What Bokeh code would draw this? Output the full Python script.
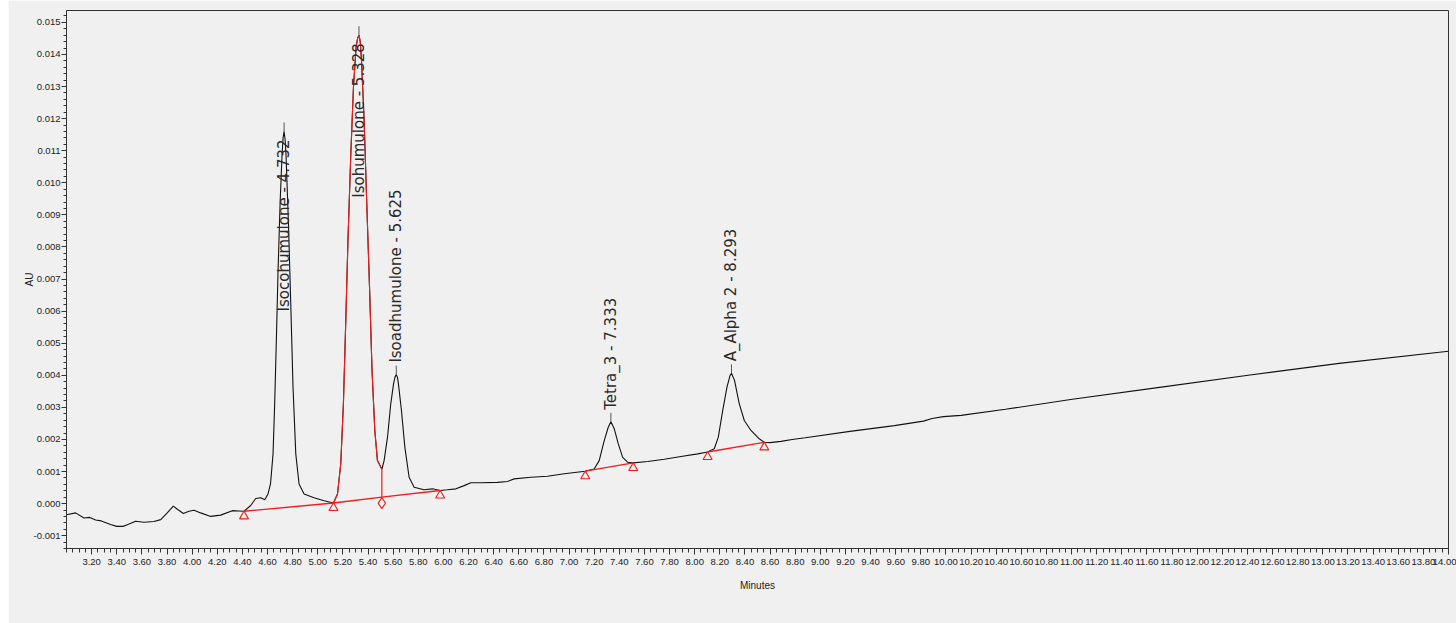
import math

from bokeh.core.properties import value
from bokeh.embed import file_html
from bokeh.layouts import row
from bokeh.models import FixedTicker, PrintfTickFormatter, Range1d, Spacer
from bokeh.plotting import figure
from bokeh.resources import INLINE

# Detector trace (minutes, AU)
time_min = [
    3.000, 3.072, 3.139, 3.186, 3.232, 3.277, 3.351, 3.400, 3.450, 3.484,
    3.550, 3.617, 3.696, 3.750, 3.800, 3.850, 3.880, 3.930, 3.975, 4.015,
    4.068, 4.148, 4.227, 4.320, 4.373, 4.413, 4.466, 4.506, 4.546, 4.578,
    4.604, 4.624, 4.644, 4.657, 4.671, 4.684, 4.700, 4.716, 4.724, 4.732,
    4.740, 4.747, 4.766, 4.785, 4.803, 4.825, 4.851, 4.891, 4.970, 5.050,
    5.125, 5.157, 5.183, 5.204, 5.223, 5.241, 5.263, 5.284, 5.305, 5.318,
    5.328, 5.338, 5.348, 5.369, 5.390, 5.412, 5.432, 5.454, 5.475, 5.510,
    5.528, 5.555, 5.581, 5.603, 5.615, 5.625, 5.634, 5.642, 5.666, 5.693,
    5.727, 5.767, 5.846, 5.913, 5.974, 6.030, 6.100, 6.165, 6.218, 6.300,
    6.430, 6.510, 6.563, 6.696, 6.829, 6.962, 7.129, 7.200, 7.240, 7.280,
    7.312, 7.333, 7.360, 7.392, 7.427, 7.466, 7.511, 7.626, 7.758, 7.891,
    8.024, 8.103, 8.156, 8.188, 8.223, 8.257, 8.281, 8.293, 8.317, 8.355,
    8.395, 8.448, 8.514, 8.554, 8.600, 8.687, 8.776, 8.880, 9.236, 9.590,
    9.820, 9.890, 9.980, 10.120, 10.474, 11.006, 11.714, 12.420, 13.130, 14.000,
]
absorbance = [
    -0.00035, -0.00029, -0.00045, -0.00043, -0.00051, -0.00054, -0.00065, -0.00071, -0.00071, -0.00066,
    -0.00055, -0.00058, -0.00056, -0.00050, -0.00030, -0.00008, -0.00017, -0.00031, -0.00024, -0.00021,
    -0.00029, -0.00040, -0.00036, -0.00022, -0.00023, -0.00024, -0.00006, 0.00016, 0.00018, 0.00012,
    0.00030, 0.00062, 0.00155, 0.00311, 0.00519, 0.00727, 0.00935, 0.01090, 0.01140, 0.01160,
    0.01135, 0.01090, 0.00882, 0.00623, 0.00363, 0.00155, 0.00061, 0.00030, 0.00018, 0.00009,
    0.00002, 0.00030, 0.00124, 0.00311, 0.00571, 0.00830, 0.01090, 0.01298, 0.01423, 0.01452,
    0.01460, 0.01440, 0.01381, 0.01194, 0.00935, 0.00674, 0.00415, 0.00228, 0.00134, 0.00107,
    0.00134, 0.00207, 0.00311, 0.00373, 0.00395, 0.00402, 0.00394, 0.00373, 0.00290, 0.00176,
    0.00082, 0.00051, 0.00043, 0.00046, 0.00041, 0.00043, 0.00046, 0.00056, 0.00065, 0.00065,
    0.00066, 0.00069, 0.00077, 0.00082, 0.00085, 0.00093, 0.00101, 0.00108, 0.00134, 0.00196,
    0.00238, 0.00255, 0.00233, 0.00186, 0.00144, 0.00129, 0.00127, 0.00131, 0.00138, 0.00147,
    0.00155, 0.00161, 0.00171, 0.00207, 0.00290, 0.00363, 0.00399, 0.00406, 0.00384, 0.00311,
    0.00259, 0.00228, 0.00202, 0.00191, 0.00190, 0.00194, 0.00200, 0.00205, 0.00225, 0.00243,
    0.00257, 0.00265, 0.00271, 0.00275, 0.00294, 0.00325, 0.00363, 0.00401, 0.00437, 0.00475,
]

# Integrated peaks
peak_names = ["Isocohumulone", "Isohumulone", "Isoadhumulone", "Tetra_3", "A_Alpha 2"]
peak_rt = [4.732, 5.328, 5.625, 7.333, 8.293]
peak_height = [0.01160, 0.01460, 0.00402, 0.00255, 0.00406]

# Integration baselines: start/end times and levels of each segment
base_t0 = [4.413, 5.125, 5.510, 7.129, 8.103]
base_y0 = [-0.00024, 0.00002, 0.00020, 0.00101, 0.00161]
base_t1 = [5.125, 5.510, 5.974, 7.511, 8.554]
base_y1 = [0.00002, 0.00020, 0.00041, 0.00127, 0.00191]

# Peak-start / peak-end marks (triangles) and the valley drop mark (diamond)
tri_t = [4.413, 5.125, 5.974, 7.129, 7.511, 8.103, 8.554]
tri_y = [-0.00024, 0.00002, 0.00041, 0.00101, 0.00127, 0.00161, 0.00191]
drop_t = [5.510]
drop_top = [0.00107]
drop_base = [0.00020]

# Portion of the trace highlighted in red (Isohumulone)
red_start, red_end = 5.125, 5.510

x_ticks = [round(3.2 + 0.2 * i, 2) for i in range(55)]
x_minor = [round(3.0 + 0.05 * i, 2) for i in range(221)]
y_ticks = [round(-0.001 + 0.001 * i, 3) for i in range(17)]
y_minor = [round(-0.0014 + 0.0002 * i, 4) for i in range(85)]

X0, X1 = 3.0, 14.0
Y0, Y1 = -0.0014, 0.01537
PAD = 8
W, H = 1456 - PAD, 623
LEFT, RIGHT, TOP, BOTTOM = 58, 8, 10, 75
frame_h = H - TOP - BOTTOM
au_per_px = (Y1 - Y0) / frame_h

BG = "#f0f0f0"
RED = "#ee1c1c"
TICK_FONT = "Liberation Sans"

p = figure(
    width=W, height=H, output_backend="svg", toolbar_location=None,
    x_range=Range1d(X0, X1), y_range=Range1d(Y0, Y1),
    min_border_left=LEFT, min_border_right=RIGHT,
    min_border_top=TOP, min_border_bottom=BOTTOM,
    background_fill_color=BG, border_fill_color=BG,
    x_axis_label="Minutes", y_axis_label="AU",
)
p.grid.visible = False
p.outline_line_color = "#333333"
p.outline_line_width = 1

xa = p.xaxis[0]
xa.ticker = FixedTicker(ticks=x_ticks, minor_ticks=x_minor)
xa.formatter = PrintfTickFormatter(format="%.2f")
xa.major_tick_out = 6
xa.major_tick_in = 0
xa.minor_tick_out = 4
xa.minor_tick_in = 0
xa.major_label_standoff = 4
xa.axis_label_standoff = 12

ya = p.yaxis[0]
ya.ticker = FixedTicker(ticks=y_ticks, minor_ticks=y_minor)
ya.formatter = PrintfTickFormatter(format="%.3f")
ya.major_tick_out = 5
ya.major_tick_in = 0
ya.minor_tick_out = 3
ya.minor_tick_in = 0
ya.major_label_standoff = 1
ya.axis_label_standoff = -4

for ax in (xa, ya):
    ax.axis_line_color = "#333333"
    ax.major_tick_line_color = "#333333"
    ax.minor_tick_line_color = "#333333"
    ax.major_label_text_font = TICK_FONT
    ax.major_label_text_font_size = "9.5px"
    ax.major_label_text_color = "#222222"
    ax.axis_label_text_font = TICK_FONT
    ax.axis_label_text_font_size = "10px"
    ax.axis_label_text_font_style = "normal"
    ax.axis_label_text_color = "#222222"

# Chromatogram
p.line(time_min, absorbance, line_color="#111111", line_width=1.1)

red_t = [t for t in time_min if red_start <= t <= red_end]
red_y = [a for t, a in zip(time_min, absorbance) if red_start <= t <= red_end]
p.line(red_t, red_y, line_color=RED, line_width=1.1)

# Integration baselines and valley drop line
p.segment(base_t0, base_y0, base_t1, base_y1, line_color=RED, line_width=1.4)
p.segment(drop_t, drop_top, drop_t, drop_base, line_color=RED, line_width=1.2)

tri_off = 5 * au_per_px
p.scatter(tri_t, [y - tri_off for y in tri_y], marker="triangle", size=9,
          fill_color=None, line_color=RED, line_width=1.1)
p.scatter(drop_t, [y - 6 * au_per_px for y in drop_base], marker="diamond", size=11,
          fill_color=None, line_color=RED, line_width=1.1)

# Apex ticks and rotated peak labels
tick_len = 9 * au_per_px
p.segment(peak_rt, peak_height, peak_rt, [h + tick_len for h in peak_height],
          line_color="#555555", line_width=1)

labels = [f"{n} - {rt:.3f}" for n, rt in zip(peak_names, peak_rt)]
char_px = 8.4
up_x, up_y, up_txt, dn_x, dn_y, dn_txt = [], [], [], [], [], []
for rt, h, txt in zip(peak_rt, peak_height, labels):
    room_px = (Y1 - h) / au_per_px
    if room_px > len(txt) * char_px + 14:
        up_x.append(rt); up_y.append(h); up_txt.append(txt)
    else:
        dn_x.append(rt); dn_y.append(h); dn_txt.append(txt)

label_style = dict(angle=math.pi / 2, text_font=value("DejaVu Sans"), text_font_size="15px",
                   text_color="#2a2a2a", text_baseline="middle")
p.text(up_x, up_y, text=up_txt, text_align="left", y_offset=-12, **label_style)
p.text(dn_x, dn_y, text=dn_txt, text_align="right", y_offset=8, **label_style)

page = row(Spacer(width=PAD, height=H), p)
open("out.html", "w").write(file_html(page, INLINE))
